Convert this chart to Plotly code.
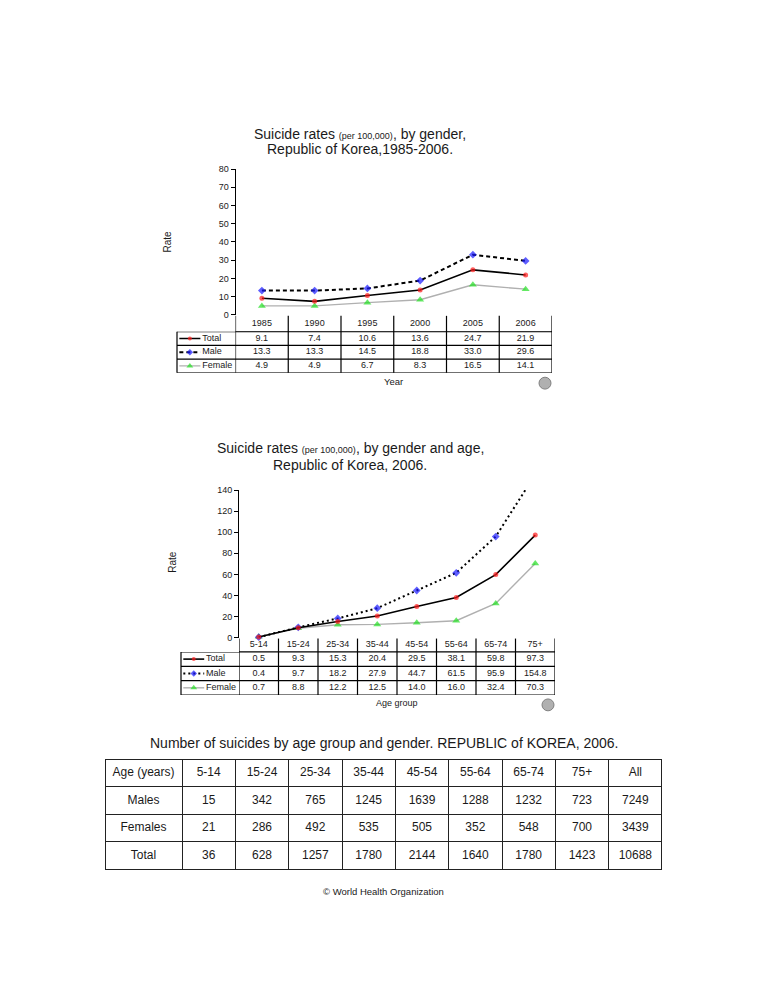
import plotly.graph_objects as go

FONT = "Liberation Sans, Arial, Helvetica, sans-serif"
W, H = 768, 994

# ---------------- data ----------------
series_names = ["Total", "Male", "Female"]

years = ["1985", "1990", "1995", "2000", "2005", "2006"]
total_by_year = [9.1, 7.4, 10.6, 13.6, 24.7, 21.9]
male_by_year = [13.3, 13.3, 14.5, 18.8, 33.0, 29.6]
female_by_year = [4.9, 4.9, 6.7, 8.3, 16.5, 14.1]

age_groups = ["5-14", "15-24", "25-34", "35-44", "45-54", "55-64", "65-74", "75+"]
total_by_age = [0.5, 9.3, 15.3, 20.4, 29.5, 38.1, 59.8, 97.3]
male_by_age = [0.4, 9.7, 18.2, 27.9, 44.7, 61.5, 95.9, 154.8]
female_by_age = [0.7, 8.8, 12.2, 12.5, 14.0, 16.0, 32.4, 70.3]

count_columns = ["5-14", "15-24", "25-34", "35-44", "45-54", "55-64", "65-74", "75+", "All"]
count_row_labels = ["Males", "Females", "Total"]
count_males = [15, 342, 765, 1245, 1639, 1288, 1232, 723, 7249]
count_females = [21, 286, 492, 535, 505, 352, 548, 700, 3439]
count_total = [36, 628, 1257, 1780, 2144, 1640, 1780, 1423, 10688]


def px(x):
    return x / W


def py(y):
    return 1 - y / H


fig = go.Figure()
shapes = []
annotations = []
layout_axes = {}

TXT = "#1a1a1a"


def style_for(name, male_dash):
    if name == "Total":
        return dict(color="black", width=1.6, dash="solid"), dict(color="#ff1a1a", symbol="circle", size=5)
    if name == "Male":
        return dict(color="black", width=2, dash=male_dash), dict(color="#1a1aff", symbol="diamond", size=6)
    return dict(color="#b0b0b0", width=1.4, dash="solid"), dict(color="#22e022", symbol="triangle-up", size=7)


def chart_block(idx, cats, series, ymax, dtick, plot_x, plot_y, hdr_y, body_y, leg_x, male_dash):
    """idx: base axis number; plot_x=(left,right) px; plot_y=(top,bottom) px"""
    a_px, a_py = idx, idx          # plot axes
    t_x, h_y, b_y = idx + 1, idx + 1, idx + 2   # table x, header y, body y
    l_x = idx + 2                  # legend column x

    def an(n):
        return "" if n == 1 else str(n)

    n = len(cats)
    xdom = [px(plot_x[0]), px(plot_x[1])]
    layout_axes["xaxis" + an(a_px)] = dict(
        type="category", categoryarray=cats, range=[-0.5, n - 0.5], domain=xdom,
        anchor="y" + an(a_py), showticklabels=False, ticks="", showline=False,
        showgrid=False, zeroline=False, fixedrange=True)
    layout_axes["yaxis" + an(a_py)] = dict(
        range=[0, ymax], dtick=dtick, domain=[py(plot_y[1]), py(plot_y[0])],
        anchor="x" + an(a_px), showline=True, linecolor="black", linewidth=1,
        ticks="outside", ticklen=4, tickcolor="black", tickwidth=1,
        tickfont=dict(size=9, color=TXT, family=FONT), showgrid=False,
        zeroline=False, fixedrange=True)
    layout_axes["xaxis" + an(t_x)] = dict(
        type="category", categoryarray=cats, range=[-0.5, n - 0.5], domain=xdom,
        anchor="y" + an(b_y), visible=False, fixedrange=True)
    layout_axes["yaxis" + an(h_y)] = dict(
        type="category", categoryarray=["hdr"], range=[-0.5, 0.5],
        domain=[py(hdr_y[1]), py(hdr_y[0])], anchor="x" + an(t_x), visible=False, fixedrange=True)
    layout_axes["yaxis" + an(b_y)] = dict(
        type="category", categoryarray=series_names, range=[len(series_names) - 0.5, -0.5],
        domain=[py(body_y[1]), py(body_y[0])], anchor="x" + an(t_x), visible=False, fixedrange=True)
    layout_axes["xaxis" + an(l_x)] = dict(
        range=[0, 1], domain=[px(leg_x[0]), px(leg_x[1])], anchor="y" + an(b_y),
        visible=False, fixedrange=True)

    # lines
    for name in ["Female", "Male", "Total"]:
        vals = series[name]
        lstyle, mstyle = style_for(name, male_dash)
        sizes = [mstyle["size"] if v <= ymax else 0 for v in vals]
        fig.add_trace(go.Scatter(
            x=cats, y=vals, mode="lines+markers", name=name,
            line=lstyle, marker=dict(color=mstyle["color"], symbol=mstyle["symbol"], size=sizes,
                                     line=dict(width=0)),
            xaxis="x" + an(a_px), yaxis="y" + an(a_py), cliponaxis=False,
            showlegend=False, hoverinfo="skip"))

    # table header text
    fig.add_trace(go.Scatter(
        x=cats, y=["hdr"] * n, mode="text", text=cats,
        textfont=dict(size=9, color=TXT, family=FONT),
        xaxis="x" + an(t_x), yaxis="y" + an(h_y), showlegend=False, hoverinfo="skip", cliponaxis=False))
    # table body text
    for name in series_names:
        fig.add_trace(go.Scatter(
            x=cats, y=[name] * n, mode="text", text=[f"{v:.1f}" for v in series[name]],
            textfont=dict(size=9, color=TXT, family=FONT),
            xaxis="x" + an(t_x), yaxis="y" + an(b_y), showlegend=False, hoverinfo="skip", cliponaxis=False))
    # legend glyphs
    for name in series_names:
        lstyle, mstyle = style_for(name, male_dash)
        fig.add_trace(go.Scatter(
            x=[0.04, 0.22, 0.40], y=[name] * 3, mode="lines+markers",
            line=lstyle, marker=dict(color=mstyle["color"], symbol=mstyle["symbol"],
                                     size=[0, mstyle["size"] - 1, 0], line=dict(width=0)),
            xaxis="x" + an(l_x), yaxis="y" + an(b_y), showlegend=False, hoverinfo="skip", cliponaxis=False))
    fig.add_trace(go.Scatter(
        x=[0.43] * len(series_names), y=series_names, mode="text", text=series_names,
        textposition="middle right", textfont=dict(size=9, color=TXT, family=FONT),
        xaxis="x" + an(l_x), yaxis="y" + an(b_y), showlegend=False, hoverinfo="skip", cliponaxis=False))

    # table borders
    LC = dict(color="black", width=1.2)
    for i in range(n + 1):
        shapes.append(dict(type="line", xref="x" + an(t_x), yref="paper",
                           x0=i - 0.5, x1=i - 0.5, y0=py(body_y[1]), y1=py(hdr_y[0]), line=LC))
    shapes.append(dict(type="line", xref="paper", yref="paper", x0=px(leg_x[0]), x1=px(leg_x[0]),
                       y0=py(body_y[1]), y1=py(body_y[0]), line=LC))
    shapes.append(dict(type="line", xref="paper", yref="y" + an(h_y), x0=xdom[0], x1=xdom[1],
                       y0=-0.5, y1=-0.5, line=LC))
    for k in range(len(series_names) + 1):
        shapes.append(dict(type="line", xref="paper", yref="y" + an(b_y), x0=px(leg_x[0]), x1=xdom[1],
                           y0=k - 0.5, y1=k - 0.5, line=LC))


chart_block(1, years,
            {"Total": total_by_year, "Male": male_by_year, "Female": female_by_year},
            80, 10, (235.5, 552), (165.7, 313), (314, 330), (330, 371.5), (177, 235.5), "4px,3px")
chart_block(4, age_groups,
            {"Total": total_by_age, "Male": male_by_age, "Female": female_by_age},
            140, 20, (239, 555), (490, 639), (640, 653.5), (653.5, 697), (181, 239), "2px,3px")

# ---------------- bottom table ----------------
fig.add_trace(go.Table(
    domain=dict(x=[px(105), px(662)], y=[py(885), py(762)]),
    columnwidth=[77] + [53.33] * len(count_columns),
    header=dict(values=["Age\u00a0(years)"] + count_columns, height=27.5,
                fill=dict(color="white"), line=dict(color="#222222", width=1),
                font=dict(size=12, color=TXT, family=FONT), align="center"),
    cells=dict(values=[count_row_labels] + [[m, f, t] for m, f, t in zip(count_males, count_females, count_total)],
               height=27.5, fill=dict(color="white"), line=dict(color="#222222", width=1),
               font=dict(size=12, color=TXT, family=FONT), align="center"),
))


# ---------------- text ----------------
def ann(text, x, y, size, angle=0, color=TXT):
    annotations.append(dict(text=text, x=px(x), y=py(y), xref="paper", yref="paper",
                            showarrow=False, xanchor="center", yanchor="middle", textangle=angle,
                            font=dict(size=size, color=color, family=FONT)))


ann("Suicide rates <span style='font-size:9px'>(per 100,000)</span>, by gender,", 360, 130.5, 14)
ann("Republic of Korea,1985-2006.", 360, 145, 14)
ann("Rate", 168, 239, 10, -90)
ann("Year", 393, 380, 9.5)

ann("Suicide rates <span style='font-size:9px'>(per 100,000)</span>, by gender and age,", 350, 448, 14)
ann("Republic of Korea, 2006.", 350, 464.5, 14)
ann("Rate", 172.5, 563, 10, -90)
ann("Age group", 397, 705, 9)

ann("Number of suicides by age group and gender. REPUBLIC of KOREA, 2006.", 384, 745, 14)
ann("© World Health Organization", 383, 896, 9.5)

# WHO emblem placeholders
for cx, cy in [(545, 382), (548, 707)]:
    shapes.append(dict(type="circle", xref="paper", yref="paper",
                       x0=px(cx - 6), x1=px(cx + 6), y0=py(cy + 6), y1=py(cy - 6),
                       fillcolor="#b0b0b0", line=dict(color="#808080", width=1)))

fig.update_layout(
    width=W, height=H, autosize=False,
    margin=dict(l=0, r=0, t=0, b=0, pad=0),
    paper_bgcolor="white", plot_bgcolor="rgba(0,0,0,0)",
    showlegend=False, shapes=shapes, annotations=annotations,
    font=dict(family=FONT, color=TXT),
    **layout_axes,
)

fig.write_html("out.html", include_plotlyjs=True,
               config={"displayModeBar": False, "staticPlot": True},
               post_script="document.body.style.margin='0';document.body.style.padding='0';")
